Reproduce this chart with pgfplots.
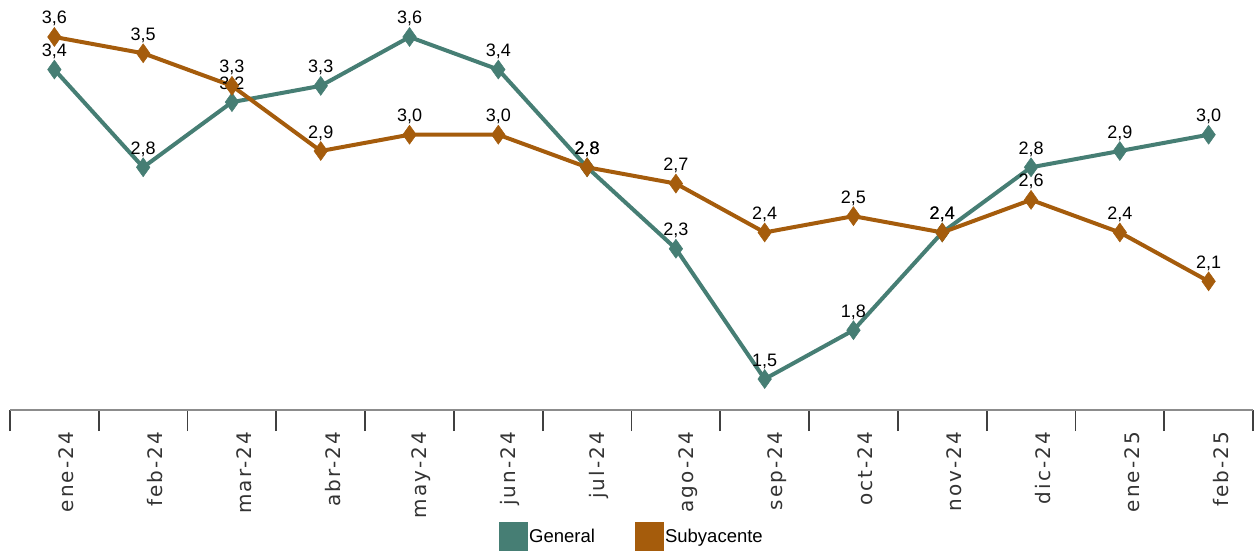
\documentclass[border=0pt]{standalone}
\usepackage{pgfplots}
\pgfplotsset{compat=1.18}
\usepackage{fontspec}
\setmainfont{Liberation Sans}
\newfontfamily\ticfont[LetterSpace=10]{DejaVu Sans}
\definecolor{gen}{RGB}{70,126,116}
\definecolor{sub}{RGB}{165,92,12}
\begin{document}
\begin{tikzpicture}
\path[use as bounding box] (-10pt,-140pt) rectangle (1247pt,410pt);
\begin{axis}[
  at={(0pt,0pt)}, anchor=south west,
  scale only axis, width=1243pt, height=410pt,
  xmin=-0.5, xmax=13.5, ymin=1.31, ymax=3.827,
  axis x line*=bottom, axis y line=none,
  xtick={0.135,1.135,2.135,3.135,4.135,5.135,6.135,7.135,8.135,9.135,10.135,11.135,12.135,13.135},
  xticklabels={ene-24,feb-24,mar-24,abr-24,may-24,jun-24,jul-24,ago-24,sep-24,oct-24,nov-24,dic-24,ene-25,feb-25},
  major tick length=0pt,
  minor xtick={-0.5,0.5,1.5,2.5,3.5,4.5,5.5,6.5,7.5,8.5,9.5,10.5,11.5,12.5,13.5},
  minor tick length=21pt,
  tick align=outside,
  every minor tick/.append style={line width=1.8pt, black!75},
  axis line style={line width=2.5pt, black!45},
  xticklabel style={rotate=90, anchor=east, inner sep=0pt, font=\ticfont\fontsize{20}{22}\selectfont, text=black!80},
  xticklabel shift=22pt,
  clip=false,
  /pgf/number format/.cd, fixed, fixed zerofill, precision=1, use comma, assume math mode=true,
  /pgfplots/.cd,
  every node near coord/.append style={font=\fontsize{18}{20}\selectfont, anchor=base, yshift=13pt, inner sep=0pt, text=black},
  legend columns=2,
  legend style={at={(0.5,-0.3085)}, anchor=center, draw=none, fill=none,
    font=\fontsize{18.5}{20}\selectfont,
    /tikz/every even column/.append style={column sep=38pt},
    nodes={inner sep=1.5pt}},
]
\addplot[gen, line width=4pt, mark=diamond*, mark size=9.5pt, mark options={solid, xscale=0.95, line width=0.5pt},
  nodes near coords,
  legend image code/.code={\fill[gen] (0pt,-12.5pt) rectangle (25pt,12.5pt);}]
  coordinates {(0,3.4) (1,2.8) (2,3.2) (3,3.3) (4,3.6) (5,3.4) (6,2.8) (7,2.3) (8,1.5) (9,1.8) (10,2.4) (11,2.8) (12,2.9) (13,3.0)};
\addlegendentry{General}
\addplot[sub, line width=4pt, mark=diamond*, mark size=9.5pt, mark options={solid, xscale=0.95, line width=0.5pt},
  nodes near coords,
  legend image code/.code={\fill[sub] (0pt,-12.5pt) rectangle (25pt,12.5pt);}]
  coordinates {(0,3.6) (1,3.5) (2,3.3) (3,2.9) (4,3.0) (5,3.0) (6,2.8) (7,2.7) (8,2.4) (9,2.5) (10,2.4) (11,2.6) (12,2.4) (13,2.1)};
\addlegendentry{Subyacente}
\end{axis}
\end{tikzpicture}
\end{document}
